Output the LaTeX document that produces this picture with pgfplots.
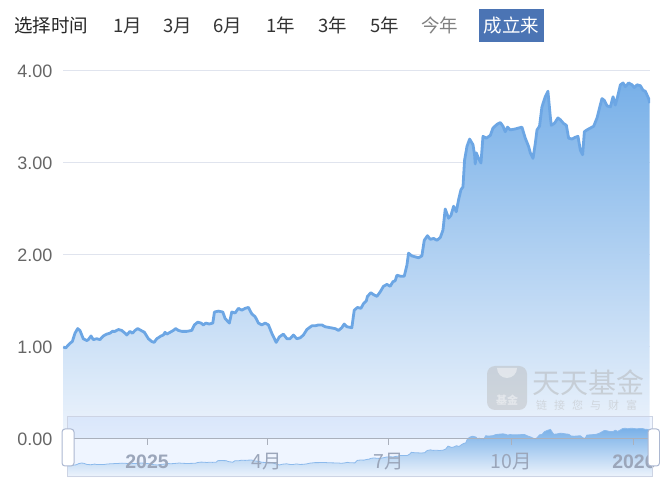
\documentclass[border=0pt]{standalone}
\usepackage{pgfplots}
\pgfplotsset{compat=1.18}
\usepackage{pgfplotstable}
\usepackage{fontspec}
\setmainfont{Liberation Sans}
\newfontfamily\cjk{Noto Sans CJK SC}

\definecolor{navline}{RGB}{108,166,228}
\definecolor{filltop}{RGB}{120,176,232}
\definecolor{fillbot}{RGB}{238,244,252}
\definecolor{gridc}{RGB}{224,228,238}
\definecolor{ticklab}{RGB}{102,102,102}
\definecolor{btn}{RGB}{75,116,180}
\definecolor{xlab}{RGB}{155,166,186}
\definecolor{axisc}{RGB}{170,176,188}
\definecolor{zoomborder}{RGB}{205,212,228}
\definecolor{handleb}{RGB}{172,184,209}
\definecolor{shadowline}{RGB}{140,186,236}

% unit NAV, x = days since 2025-01-01
\pgfplotstableread{
d nav
-62.8 1.00
-61.0 0.99
-57.8 1.04
-56.0 1.06
-54.0 1.15
-52.0 1.20
-50.3 1.18
-47.8 1.09
-45.2 1.07
-44.0 1.08
-42.0 1.12
-40.3 1.08
-37.7 1.09
-35.3 1.08
-32.8 1.12
-30.2 1.14
-27.8 1.15
-26.0 1.17
-24.0 1.17
-21.5 1.19
-19.0 1.18
-16.5 1.15
-15.2 1.13
-12.8 1.17
-11.0 1.15
-9.0 1.18
-7.0 1.20
-4.5 1.18
-2.0 1.16
1.0 1.09
3.5 1.06
5.3 1.05
7.3 1.09
10.5 1.12
12.2 1.13
13.5 1.16
14.8 1.14
17.3 1.16
19.7 1.18
21.5 1.20
23.5 1.18
26.0 1.17
29.8 1.17
33.5 1.18
35.5 1.24
38.0 1.27
40.5 1.26
42.2 1.24
44.0 1.26
46.5 1.25
49.3 1.26
50.5 1.38
53.5 1.39
56.8 1.38
58.5 1.31
61.7 1.26
63.5 1.38
66.0 1.37
68.5 1.42
71.0 1.40
73.5 1.42
76.0 1.43
78.5 1.36
81.0 1.33
83.5 1.26
86.0 1.24
88.5 1.26
91.0 1.24
93.5 1.15
96.8 1.05
99.2 1.11
102.2 1.14
104.8 1.09
107.2 1.09
109.7 1.13
112.3 1.09
114.8 1.10
117.2 1.13
119.8 1.19
123.5 1.23
126.0 1.23
128.5 1.24
131.0 1.24
133.5 1.22
137.3 1.21
141.0 1.20
143.5 1.18
146.0 1.21
147.8 1.25
149.8 1.22
153.5 1.21
155.3 1.40
157.7 1.43
160.3 1.42
162.2 1.47
164.3 1.50
165.2 1.55
167.8 1.59
169.7 1.57
172.3 1.55
174.8 1.60
177.2 1.66
179.8 1.68
182.3 1.66
184.3 1.71
186.0 1.72
187.3 1.78
189.8 1.77
192.8 1.77
194.8 1.89
196.0 2.02
198.5 1.99
201.0 1.98
203.5 1.97
206.0 1.99
207.8 2.16
210.2 2.21
212.3 2.17
214.8 2.18
217.3 2.16
219.8 2.19
221.8 2.27
223.5 2.50
226.0 2.40
227.8 2.43
229.8 2.53
231.8 2.47
233.5 2.60
235.3 2.71
236.8 2.74
238.0 3.03
239.8 3.18
241.8 3.26
244.3 3.20
245.5 3.09
246.0 2.99
246.8 3.11
248.5 3.05
250.3 3.00
251.8 3.29
254.3 3.27
257.3 3.30
259.3 3.38
262.3 3.42
264.8 3.44
266.8 3.40
268.5 3.34
270.2 3.39
272.3 3.36
276.0 3.37
281.0 3.39
283.5 3.27
286.0 3.18
287.3 3.11
289.3 3.05
291.0 3.21
292.3 3.36
294.2 3.40
296.0 3.61
298.5 3.72
300.5 3.78
302.3 3.50
303.0 3.41
305.3 3.43
308.0 3.49
309.8 3.47
312.2 3.43
314.3 3.41
316.0 3.27
318.5 3.26
321.0 3.28
323.0 3.29
324.8 3.14
326.5 3.09
327.8 3.34
329.8 3.36
332.3 3.38
334.8 3.40
337.3 3.49
339.2 3.60
341.0 3.70
342.8 3.68
344.8 3.62
347.3 3.61
349.3 3.72
351.0 3.63
352.7 3.72
354.8 3.85
356.8 3.87
358.5 3.83
361.0 3.87
363.5 3.85
365.3 3.82
367.3 3.85
369.8 3.84
371.8 3.79
373.5 3.78
376.0 3.70
376.8 3.65
}\navdata

\begin{document}
\begin{tikzpicture}[x=1pt,y=1pt]
\useasboundingbox (0,0) rectangle (660,489);

% period selector
\begin{scope}[every node/.style={anchor=base west, inner sep=0pt, font=\cjk\fontsize{18.5}{20}\selectfont}]
\node[text=black!85] at (14,456) {选择时间};
\node[text=black!80] at (113,456) {1月};
\node[text=black!80] at (163,456) {3月};
\node[text=black!80] at (213,456) {6月};
\node[text=black!80] at (266,456) {1年};
\node[text=black!80] at (318,456) {3年};
\node[text=black!80] at (370,456) {5年};
\node[text=black!50] at (421,456) {今年};
\end{scope}
\fill[btn] (479,447) rectangle (544,480);
\node[anchor=base, inner sep=0pt, text=white, font=\cjk\fontsize{18.5}{20}\selectfont] at (511.5,456) {成立来};

% main chart
\begin{axis}[
  at={(63pt,50pt)}, anchor=south west, scale only axis,
  width=587pt, height=368pt,
  xmin=-63, xmax=377, ymin=0, ymax=4,
  axis x line*=bottom, axis y line*=left,
  x axis line style={draw=none},
  y axis line style={draw=none},
  xtick=\empty,
  ytick={0,1,2,3,4},
  ytick style={draw=none},
  ymajorgrids,
  grid style={draw=gridc, line width=1pt},
  /pgf/number format/assume math mode=true,
  yticklabel style={/pgf/number format/.cd, fixed, fixed zerofill, precision=2, /tikz/.cd,
    font=\fontsize{18}{20}\selectfont, text=ticklab, anchor=east, xshift=-7pt},
]
\addplot[draw=none, top color=filltop, bottom color=fillbot] table[x=d, y=nav] {\navdata} \closedcycle;
\addplot[navline, line width=2.8pt, line join=round, no marks] table[x=d, y=nav] {\navdata};
\end{axis}

% watermark
\begin{scope}[opacity=0.45]
\fill[black!28, rounded corners=8pt] (487,79) rectangle (527,123);
\fill[white] (497,121) arc[start angle=180, end angle=360, radius=10];
\node[inner sep=0pt, text=white, font=\cjk\bfseries\fontsize{11}{12}\selectfont] at (507,89) {基金};
\node[anchor=west, inner sep=0pt, text=black!32, font=\cjk\fontsize{28}{30}\selectfont] at (532,106) {天天基金};
\node[anchor=west, inner sep=0pt, text=black!28, font=\cjk\fontsize{11}{12}\selectfont] at (536,84) {链\hspace{7pt}接\hspace{7pt}您\hspace{7pt}与\hspace{7pt}财\hspace{7pt}富};
\end{scope}

% data zoom slider
\fill[fill={rgb,255:red,135;green,175;blue,255}, fill opacity=0.13] (67,12) rectangle (652,72);
\begin{axis}[
  at={(67pt,12pt)}, anchor=south west, scale only axis,
  width=585pt, height=60pt,
  xmin=-62.8, xmax=376.8, ymin=0.126, ymax=4.734,
  hide axis,
]
\addplot[draw=none, top color=filltop, bottom color=fillbot] table[x=d, y=nav] {\navdata} \closedcycle;
\addplot[shadowline, line width=0.8pt, no marks] table[x=d, y=nav] {\navdata};
\end{axis}

% time axis of the main chart, drawn over the slider shadow
\begin{axis}[
  at={(63pt,50pt)}, anchor=south west, scale only axis,
  width=587pt, height=368pt,
  xmin=-63, xmax=377, ymin=0, ymax=4,
  axis x line*=bottom, axis y line=none,
  x axis line style={draw=axisc, line width=1pt},
  xtick={0,90,181,273,365},
  xticklabels={\textbf{2025},{\cjk 4月},{\cjk 7月},{\cjk 10月},\textbf{2026}},
  xtick align=outside,
  xtick style={draw=axisc, line width=1pt},
  major tick length=6pt,
  xticklabel style={font=\fontsize{19.5}{21}\selectfont, text=xlab, anchor=base, yshift=-24pt},
]
\end{axis}

\draw[zoomborder, line width=1pt] (67,12) rectangle (652,72);
\filldraw[fill=white, draw=handleb, line width=1pt, rounded corners=3pt] (62,23) rectangle (74,60);
\filldraw[fill=white, draw=handleb, line width=1pt, rounded corners=3pt] (648,23) rectangle (659.5,60);
\end{tikzpicture}
\end{document}
